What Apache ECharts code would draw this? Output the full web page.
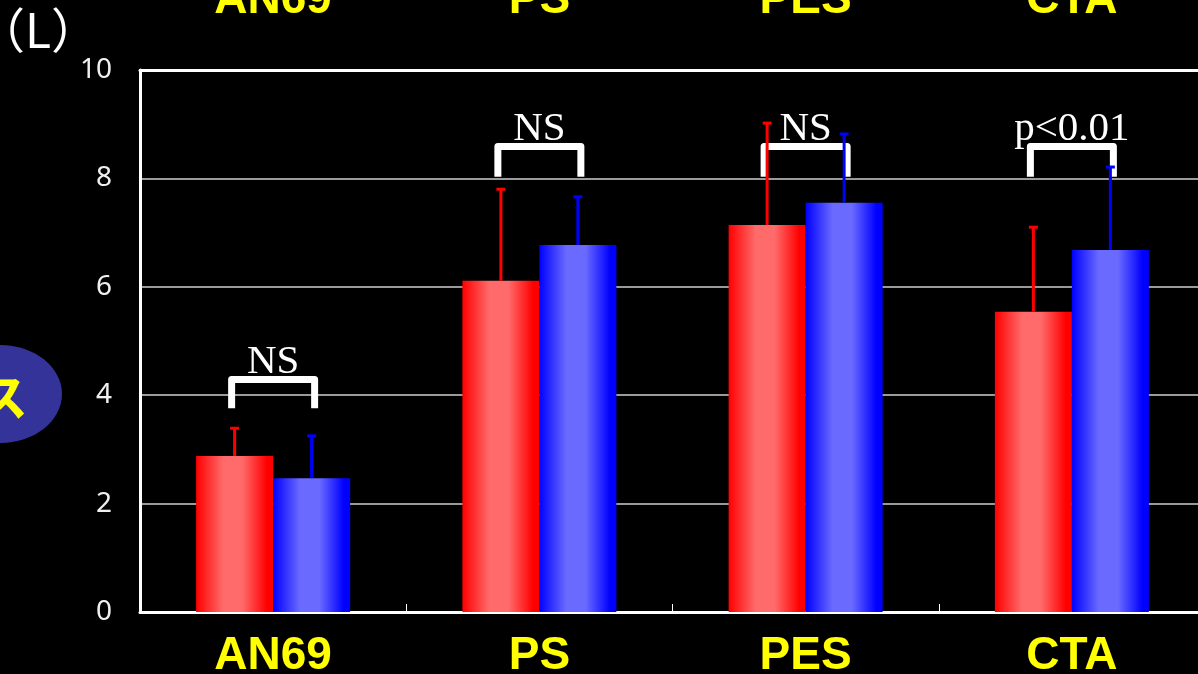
<!DOCTYPE html>
<html><head><meta charset="utf-8">
<script src="https://cdn.jsdelivr.net/npm/echarts@6/dist/echarts.min.js"></script>
<style>html,body{margin:0;padding:0;background:#000;}#c{width:1198px;height:674px;}</style>
</head><body><div id="c"></div>
<script>
// ---- data ----
var categories = ['AN69', 'PS', 'PES', 'CTA'];
var redValues = [2.88, 6.11, 7.14, 5.54];
var redErrTop = [3.39, 7.80, 9.02, 7.10];
var blueValues = [2.47, 6.77, 7.55, 6.68];
var blueErrTop = [3.25, 7.66, 8.82, 8.21];
var bracketTop = [4.29, 8.59, 8.59, 8.59];
var bracketBottom = [3.76, 8.03, 8.03, 8.03];
var bracketLabels = ['NS', 'NS', 'NS', 'p<0.01'];
var yTicks = [0, 2, 4, 6, 8, 10];
var unitLabel = '（L）';

var chart = echarts.init(document.getElementById('c'));
var BAR_W = 77;

function grad(edge, light) {
  return new echarts.graphic.LinearGradient(0, 0, 1, 0, [
    {offset: 0, color: edge},
    {offset: 0.35, color: light},
    {offset: 0.6, color: light},
    {offset: 0.92, color: edge},
    {offset: 1, color: edge}
  ]);
}

function errSeries(name, vals, tops, color, dx) {
  return {
    type: 'custom', name: name, z: 10,
    data: vals.map(function (v, i) { return [i, v, tops[i]]; }),
    renderItem: function (params, api) {
      var b = api.coord([api.value(0), api.value(1)]);
      var t = api.coord([api.value(0), api.value(2)]);
      var x = b[0] + dx;
      return {
        type: 'group', children: [
          {type: 'line', shape: {x1: x, y1: b[1], x2: x, y2: t[1]}, style: {stroke: color, lineWidth: 3}},
          {type: 'line', shape: {x1: x - 4.5, y1: t[1], x2: x + 4.5, y2: t[1]}, style: {stroke: color, lineWidth: 3}}
        ]
      };
    }
  };
}

var option = {
  backgroundColor: '#000',
  animation: false,
  grid: {left: 140, right: -7, top: 70, bottom: 62, containLabel: false, outerBoundsMode: 'none'},
  xAxis: [{
    type: 'category', data: categories, position: 'bottom',
    axisLine: {lineStyle: {color: '#fff', width: 3}},
    axisTick: {show: true, inside: true, length: 8, lineStyle: {color: '#fff', width: 1}},
    axisLabel: {color: '#ffff00', fontSize: 46, fontWeight: 'bold', fontFamily: 'Liberation Sans', margin: 21}
  }, {
    type: 'category', data: categories, position: 'top',
    axisLine: {lineStyle: {color: '#fff', width: 3}},
    axisTick: {show: false},
    axisLabel: {color: '#ffff00', fontSize: 46, fontWeight: 'bold', fontFamily: 'Liberation Sans', margin: 47}
  }],
  yAxis: {
    type: 'value', min: 0, max: 10, interval: 2,
    axisLine: {show: true, lineStyle: {color: '#fff', width: 3}},
    axisTick: {show: false},
    splitLine: {lineStyle: {color: '#9a9a9a', width: 2}},
    axisLabel: {color: '#f0f0f0', fontSize: 28, fontFamily: 'Noto Sans', margin: 28,
      formatter: function (v) { return yTicks.indexOf(v) >= 0 ? String(v) : ''; }}
  },
  series: [
    {type: 'bar', name: 'red', data: redValues, barWidth: BAR_W, barGap: 0,
      itemStyle: {color: grad('#ff0000', '#ff6a6a')}},
    {type: 'bar', name: 'blue', data: blueValues, barWidth: BAR_W, barGap: 0,
      itemStyle: {color: grad('#0000ff', '#6a6aff')}},
    {
      type: 'custom', name: 'brackets', z: 5,
      data: bracketTop.map(function (t, i) { return [i, t, bracketBottom[i]]; }),
      renderItem: function (params, api) {
        var i = api.value(0);
        var t = api.coord([i, api.value(1)]);
        var b = api.coord([i, api.value(2)]);
        var cx = t[0], hw = 41.5;
        return {
          type: 'group', children: [
            {type: 'polyline', shape: {points: [[cx - hw, b[1]], [cx - hw, t[1]], [cx + hw, t[1]], [cx + hw, b[1]]]},
              style: {stroke: '#fff', lineWidth: 7, fill: null, lineJoin: 'round'}},
            {type: 'text', x: cx, y: t[1] + 3,
              style: {text: bracketLabels[i], fill: '#fff', font: '41px "Liberation Serif"', textAlign: 'center', textVerticalAlign: 'bottom'}}
          ]
        };
      }
    },
    errSeries('redErr', redValues, redErrTop, '#ff0000', -BAR_W / 2),
    errSeries('blueErr', blueValues, blueErrTop, '#0000ff', BAR_W / 2)
  ],
  graphic: [
    {type: 'text', x: -23, y: 30, style: {text: unitLabel, fill: '#fff', font: '48px "Noto Sans CJK JP"', textAlign: 'left', textVerticalAlign: 'middle'}},
    {type: 'ellipse', shape: {cx: 0, cy: 394, rx: 62, ry: 49}, style: {fill: '#333399'}},
    {type: 'text', x: 28, y: 397, style: {text: 'ス', fill: '#ffff00', font: 'bold 50px "Noto Sans CJK JP"', textAlign: 'right', textVerticalAlign: 'middle'}}
  ]
};
chart.setOption(option);
</script></body></html>
